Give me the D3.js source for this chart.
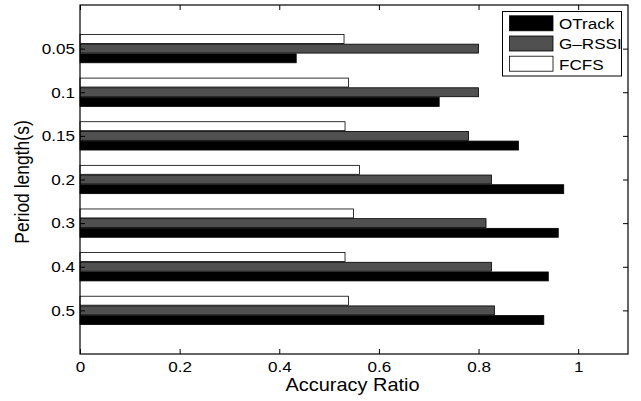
<!DOCTYPE html>
<html>
<head>
<meta charset="utf-8">
<script src="https://cdn.jsdelivr.net/npm/d3@7"></script>
<style>
  body { margin: 0; background: #fff; }
  text { font-family: "Liberation Sans", Arial, sans-serif; }
</style>
</head>
<body>
<div id="chart"></div>
<script>
// data
var periods = ["0.05", "0.1", "0.15", "0.2", "0.3", "0.4", "0.5"];
var series = ["FCFS", "G\u2013RSSI", "OTrack"];
var fcfs = [0.530, 0.539, 0.532, 0.561, 0.549, 0.532, 0.539];
var grssi = [0.800, 0.800, 0.780, 0.826, 0.815, 0.826, 0.832];
var otrack = [0.434, 0.721, 0.880, 0.971, 0.960, 0.940, 0.931];
var xTicks = [0, 0.2, 0.4, 0.6, 0.8, 1];

var svgWidth = 641, svgHeight = 401;
var margin = { top: 5, right: 13, bottom: 47, left: 80 };
var width = svgWidth - margin.left - margin.right;
var height = svgHeight - margin.top - margin.bottom;
var stretch = 1.14; // the original figure's text is a bit wide

var svg = d3.select("#chart").append("svg")
  .attr("width", svgWidth)
  .attr("height", svgHeight);

var chart = svg.append("g")
  .attr("transform", `translate(${margin.left}, ${margin.top})`);

var x = d3.scaleLinear().domain([0, 1.1]).range([0, width]);
// categories sit at 1..7 inside a 0..8 range, like matlab barh
var y = d3.scaleLinear().domain([0, 8]).range([0, height]);

var fills = { "FCFS": "#ffffff", "G\u2013RSSI": "#505050", "OTrack": "#000000" };
var values = [fcfs, grssi, otrack];
var offsets = [-0.222, 0, 0.222];
var barH = 0.205;

var rows = [];
periods.forEach(function(p, i) {
  series.forEach(function(s, j) {
    rows.push({ cat: i + 1, name: s, value: values[j][i], off: offsets[j] });
  });
});

chart.selectAll("rect.bar").data(rows).enter()
  .append("rect")
  .attr("class", "bar")
  .attr("x", x(0))
  .attr("y", d => y(d.cat + d.off - barH / 2))
  .attr("width", d => x(d.value) - x(0))
  .attr("height", d => y(barH) - y(0))
  .attr("fill", d => fills[d.name])
  .attr("stroke", "#000")
  .attr("stroke-width", 0.8);

// axes: ticks inside the box
var bottomAxis = d3.axisBottom(x).tickValues(xTicks).tickSize(-5).tickPadding(7.3)
  .tickFormat(d => d === 0 || d === 1 ? d3.format("d")(d) : d3.format(".1f")(d));
var topAxis = d3.axisTop(x).tickValues(xTicks).tickSize(-5).tickFormat("");
var leftAxis = d3.axisLeft(y).tickValues(d3.range(1, 8)).tickSize(-5).tickPadding(4.4)
  .tickFormat(d => periods[d - 1]);
var rightAxis = d3.axisRight(y).tickValues(d3.range(1, 8)).tickSize(-5).tickFormat("");

function styleAxis(g) {
  g.select(".domain").remove();
  g.selectAll("line").attr("stroke", "#000");
  g.selectAll("text").attr("font-size", "15px").attr("fill", "#000")
    .attr("transform", `scale(${stretch},1)`)
    .style("font-family", "'Liberation Sans', Arial, sans-serif");
}

chart.append("g").attr("transform", `translate(0, ${height})`).call(bottomAxis).call(styleAxis);
chart.append("g").call(topAxis).call(styleAxis);
chart.append("g").call(leftAxis).call(styleAxis);
chart.append("g").attr("transform", `translate(${width}, 0)`).call(rightAxis).call(styleAxis);

// frame
chart.append("rect")
  .attr("width", width).attr("height", height)
  .attr("fill", "none").attr("stroke", "#000").attr("stroke-width", 1.2);

// axis labels
svg.append("text")
  .attr("transform", `translate(352.5, 391) scale(${stretch},1)`)
  .attr("text-anchor", "middle")
  .attr("font-size", "17.5px")
  .text("Accuracy Ratio");

svg.append("text")
  .attr("transform", `translate(29, 182) rotate(-90) scale(1,${stretch})`)
  .attr("text-anchor", "middle")
  .attr("font-size", "17.5px")
  .text("Period length(s)");

// legend
var legendOrder = ["OTrack", "G\u2013RSSI", "FCFS"];
var legend = svg.append("g").attr("transform", "translate(502.5, 11.5)");
legend.append("rect")
  .attr("width", 119).attr("height", 64.5)
  .attr("fill", "#fff").attr("stroke", "#000").attr("stroke-width", 1);

var item = legend.selectAll("g.item").data(legendOrder).enter()
  .append("g").attr("class", "item")
  .attr("transform", (d, i) => `translate(7, ${4.3 + i * 20.2})`);
item.append("rect")
  .attr("width", 43.5).attr("height", 15)
  .attr("fill", d => fills[d]).attr("stroke", "#000").attr("stroke-width", 0.8);
item.append("text")
  .attr("transform", `translate(49.5, 13.3) scale(${stretch},1)`)
  .attr("font-size", "15px")
  .text(d => d);
</script>
</body>
</html>
